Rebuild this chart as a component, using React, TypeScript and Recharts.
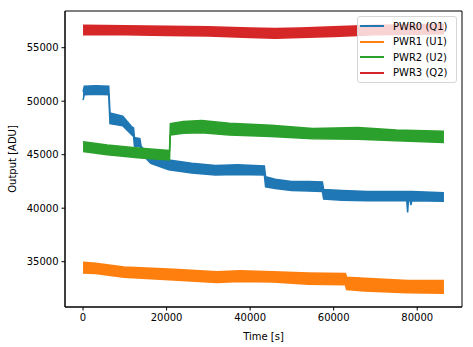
import { ComposedChart, Area, XAxis, YAxis, ReferenceArea, Legend } from "recharts"

const seriesNames = ["PWR0 (Q1)", "PWR1 (U1)", "PWR2 (U2)", "PWR3 (Q2)"]
const seriesColors = ["#1f77b4", "#ff7f0e", "#2ca02c", "#d62728"]

const xTicks = [0, 20000, 40000, 60000, 80000]
const yTicks = [35000, 40000, 45000, 50000, 55000]

// each series is a noisy trace, kept as lower / upper edge of its band [ADU]
const pwr0Time = [0, 300, 3000, 6150, 6450, 9500, 11700, 12100, 12300, 13600, 13900, 16200, 20500, 26000, 31700, 37000, 43400, 43700, 46000, 49900, 54000, 57300, 57600, 62000, 68000, 73700, 77500, 77700, 77900, 78300, 78500, 78700, 86400]
const pwr0Low = [50100, 50600, 50650, 50600, 47900, 47700, 46850, 46700, 45800, 45750, 45150, 44200, 43600, 43300, 43100, 43150, 43100, 42000, 41850, 41650, 41600, 41550, 40850, 40750, 40700, 40700, 40700, 39600, 40700, 40700, 40300, 40700, 40650]
const pwr0High = [50900, 51400, 51450, 51400, 48900, 48600, 47600, 47500, 46600, 46500, 45800, 44800, 44500, 44200, 44000, 44050, 43950, 42950, 42700, 42500, 42500, 42450, 41750, 41650, 41550, 41550, 41550, 41550, 41550, 41550, 41550, 41550, 41450]

const pwr1Time = [0, 3000, 9800, 21700, 32000, 37600, 45500, 53900, 62800, 63100, 67400, 77700, 86400]
const pwr1Low = [33950, 33900, 33550, 33300, 33050, 33150, 33100, 32900, 32850, 32400, 32250, 32100, 32050]
const pwr1High = [34950, 34850, 34500, 34300, 34050, 34150, 34050, 33950, 33900, 33550, 33450, 33250, 33250]

const pwr2Time = [0, 5800, 13800, 20700, 20900, 24000, 28400, 35000, 45000, 55000, 65800, 75000, 86400]
const pwr2Low = [45300, 45000, 44700, 44500, 46850, 47000, 47050, 46850, 46700, 46500, 46450, 46300, 46150]
const pwr2High = [46200, 45900, 45600, 45400, 47900, 48100, 48200, 47950, 47750, 47450, 47550, 47300, 47200]

const pwr3Time = [0, 10000, 20000, 30000, 40000, 46000, 52000, 60000, 70000, 80000, 86400]
const pwr3Low = [56200, 56200, 56150, 56100, 55950, 55880, 55950, 56050, 56200, 56250, 56300]
const pwr3High = [57100, 57050, 57000, 56950, 56850, 56800, 56850, 56950, 57100, 57150, 57200]

const toRows = (time: number[], low: number[], high: number[]) =>
  time.map((t, i) => ({ t, band: [low[i], high[i]] }))

const series = [
  toRows(pwr0Time, pwr0Low, pwr0High),
  toRows(pwr1Time, pwr1Low, pwr1High),
  toRows(pwr2Time, pwr2Low, pwr2High),
  toRows(pwr3Time, pwr3Low, pwr3High),
]

const xDomain = [-4320, 90720]
const yDomain = [30766, 58430]

const font = "'DejaVu Sans', sans-serif"

function LegendBox() {
  return (
    <div
      style={{
        width: 100,
        height: 67,
        boxSizing: "border-box",
        background: "rgba(255,255,255,0.8)",
        border: "1px solid #d6d6d6",
        borderRadius: 3,
        fontFamily: font,
        fontSize: 10,
        color: "#000",
        position: "relative",
      }}
    >
      {seriesNames.map((name, i) => (
        <div
          key={name}
          style={{ position: "absolute", left: 2, top: 2 + i * 15.6, height: 14, display: "flex", alignItems: "center" }}
        >
          <span style={{ display: "inline-block", width: 24, height: 2, background: seriesColors[i] }} />
          <span style={{ marginLeft: 9, whiteSpace: "nowrap" }}>{name}</span>
        </div>
      ))}
    </div>
  )
}

export default function App() {
  return (
    <div style={{ position: "absolute", left: 0, top: 0, background: "#fff" }}>
      <ComposedChart width={473} height={347} margin={{ top: 11, right: 11, bottom: 0, left: 0 }}>
        <XAxis
          type="number"
          dataKey="t"
          domain={xDomain}
          ticks={xTicks}
          allowDataOverflow
          height={40}
          tickSize={3.5}
          tickMargin={3}
          stroke="#000"
          tick={{ fill: "#000", fontSize: 10, fontFamily: font }}
          label={{ value: "Time [s]", position: "insideBottom", offset: 7, fill: "#000", fontSize: 10, fontFamily: font }}
        />
        <YAxis
          type="number"
          domain={yDomain}
          ticks={yTicks}
          allowDataOverflow
          width={65}
          tickSize={3.5}
          tickMargin={3}
          stroke="#000"
          tick={{ fill: "#000", fontSize: 10, fontFamily: font }}
          label={{
            value: "Output [ADU]",
            angle: -90,
            position: "insideLeft",
            offset: 12,
            fill: "#000",
            fontSize: 10,
            fontFamily: font,
            style: { textAnchor: "middle" },
          }}
        />
        {series.map((rows, i) => (
          <Area
            key={seriesNames[i]}
            data={rows}
            dataKey="band"
            name={seriesNames[i]}
            type="linear"
            stroke={seriesColors[i]}
            strokeWidth={1.5}
            fill={seriesColors[i]}
            fillOpacity={1}
            dot={false}
            activeDot={false}
            isAnimationActive={false}
          />
        ))}
        <ReferenceArea
          x1={xDomain[0]}
          x2={xDomain[1]}
          y1={yDomain[0]}
          y2={yDomain[1]}
          fill="none"
          stroke="#000"
          strokeWidth={1}
        />
        <Legend
          layout="vertical"
          align="center"
          verticalAlign="middle"
          wrapperStyle={{ left: 357, top: 16, width: 100, height: 67 }}
          content={() => <LegendBox />}
        />
      </ComposedChart>
    </div>
  )
}
